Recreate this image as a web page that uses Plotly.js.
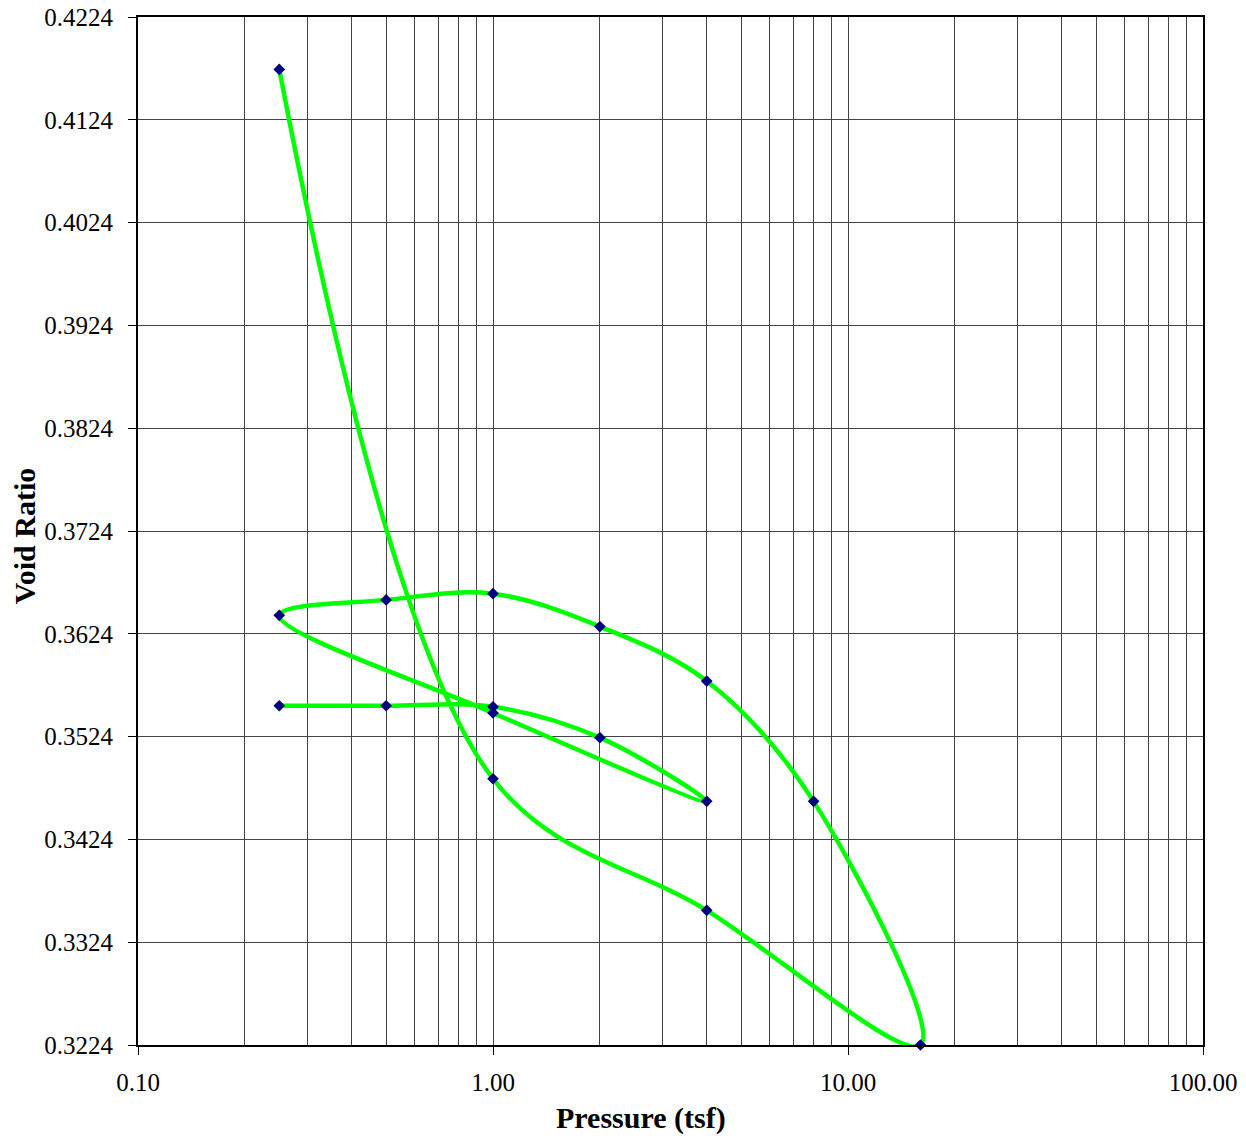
<!DOCTYPE html>
<html>
<head>
<meta charset="utf-8">
<script src="https://cdn.plot.ly/plotly-3.0.1.min.js"></script>
<style>html,body{margin:0;padding:0;background:#fff;}#chart{width:1246px;height:1136px;}</style>
</head>
<body>
<div id="chart"></div>
<script>
// Load/unload sequence of the consolidation test
const pressure = [0.25, 1, 4, 16, 8, 4, 2, 1, 0.5, 0.25, 1, 4, 2, 1, 0.5, 0.25];
const voidRatio = [0.4173, 0.3483, 0.3355, 0.3224, 0.3461, 0.3578, 0.3631, 0.3663, 0.3657, 0.3642, 0.3547, 0.3461, 0.3523, 0.3553, 0.3554, 0.3554];
const xTickVals = [0.1, 1, 10, 100];
const xTickText = ['0.10', '1.00', '10.00', '100.00'];
const minorVals = [];
[0.1, 1, 10].forEach(d => { for (let k = 2; k <= 9; k++) minorVals.push(d * k); });

const trace = {
  x: pressure, y: voidRatio, type: 'scatter', mode: 'lines+markers',
  line: {color: '#00FF00', width: 4.5, shape: 'spline', smoothing: 1},
  marker: {symbol: 'diamond', size: 9, color: '#000080'},
  cliponaxis: false, hoverinfo: 'x+y'
};
const font = {family: '"Liberation Serif", "Times New Roman", serif', color: '#000'};
const layout = {
  width: 1246, height: 1136,
  margin: {l: 138, r: 43, t: 17, b: 91},
  paper_bgcolor: '#fff', plot_bgcolor: '#fff',
  showlegend: false,
  font: Object.assign({size: 25}, font),
  xaxis: {
    type: 'log', range: [-1, 2],
    tickmode: 'array', tickvals: xTickVals, ticktext: xTickText,
    ticks: 'outside', ticklen: 8, tickcolor: '#000', tickwidth: 1,
    ticklabelstandoff: 6,
    showgrid: true, gridcolor: '#444', gridwidth: 1,
    minor: {tickmode: 'array', tickvals: minorVals, showgrid: true, gridcolor: '#444', gridwidth: 1, ticks: ''},
    showline: true, linecolor: '#000', linewidth: 2, mirror: true,
    zeroline: false,
    tickfont: Object.assign({size: 25}, font)
  },
  yaxis: {
    range: [0.3224, 0.4224], tickmode: 'linear', tick0: 0.3224, dtick: 0.01,
    tickformat: '.4f',
    ticks: 'outside', ticklen: 8, tickcolor: '#000', tickwidth: 1,
    ticklabelstandoff: 10,
    showgrid: true, gridcolor: '#444', gridwidth: 1,
    showline: true, linecolor: '#000', linewidth: 2, mirror: true,
    zeroline: false,
    tickfont: Object.assign({size: 25}, font)
  },
  annotations: [
    {text: '<b>Pressure (tsf)</b>', xref: 'paper', yref: 'paper', x: 0.472, y: -0.071,
     xanchor: 'center', yanchor: 'middle', showarrow: false, font: Object.assign({size: 30}, font)},
    {text: '<b>Void Ratio</b>', xref: 'paper', yref: 'paper', x: -0.107, y: 0.495, textangle: -90,
     xanchor: 'center', yanchor: 'middle', showarrow: false, font: Object.assign({size: 30}, font)}
  ]
};
Plotly.newPlot('chart', [trace], layout, {displayModeBar: false, staticPlot: true});
</script>
</body>
</html>
